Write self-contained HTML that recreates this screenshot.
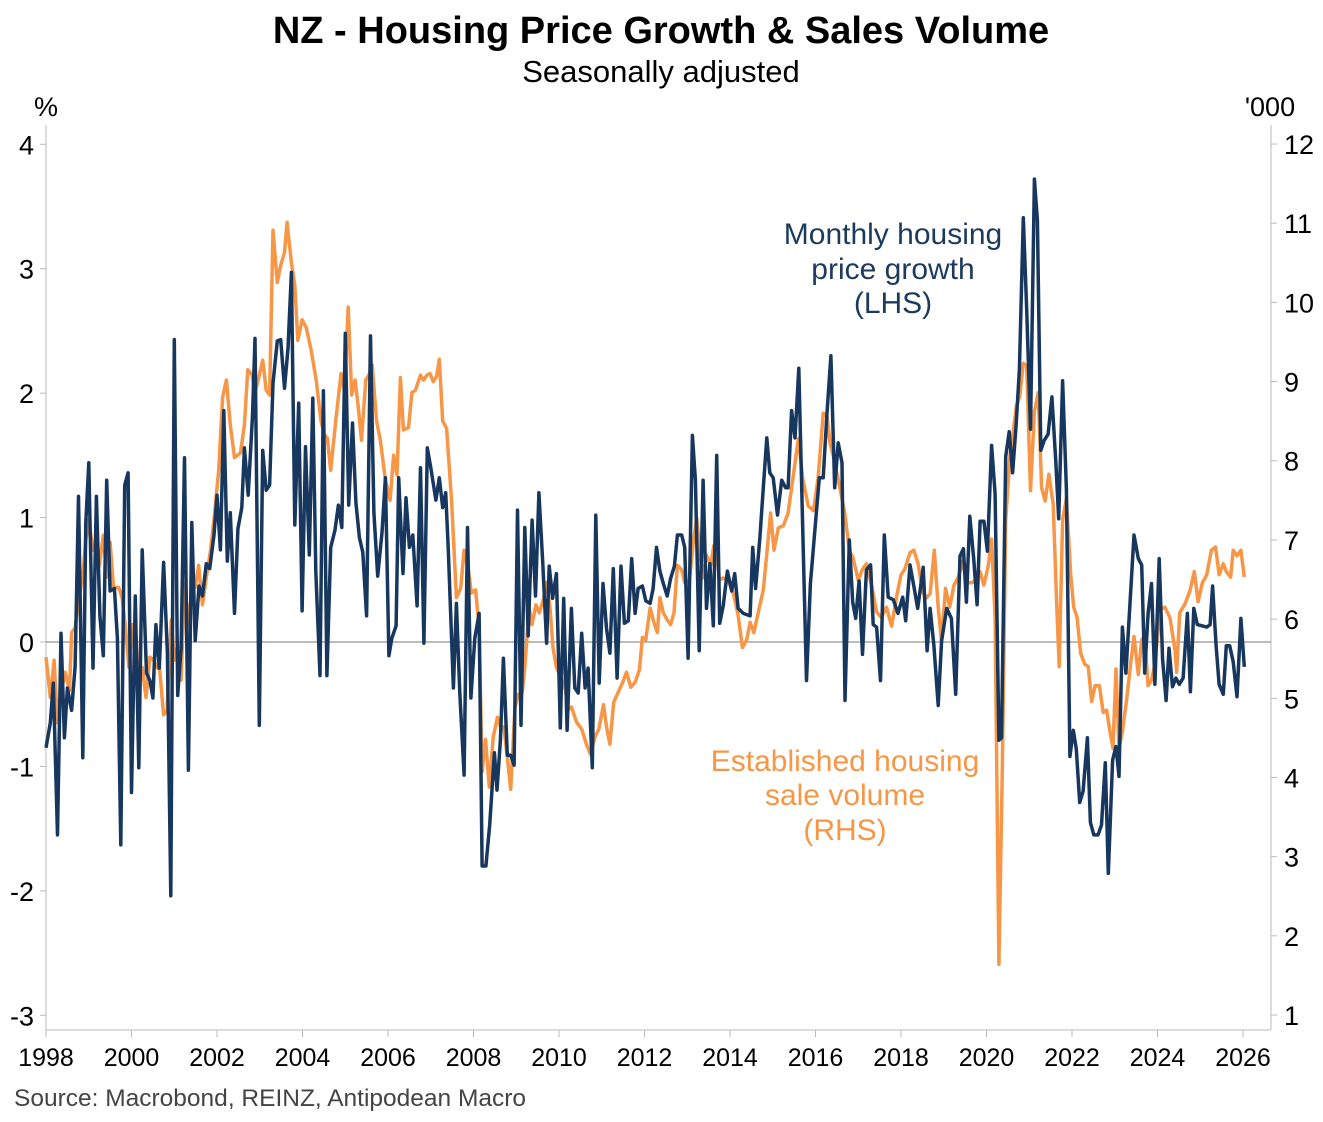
<!DOCTYPE html>
<html><head><meta charset="utf-8">
<style>
html,body{margin:0;padding:0;background:#fff;}
svg{display:block;font-family:"Liberation Sans",Arial,sans-serif;}
</style></head>
<body>
<svg id="chart" width="1323" height="1122" viewBox="0 0 1323 1122" xmlns="http://www.w3.org/2000/svg">
<text x="661" y="43" text-anchor="middle" font-size="38" font-weight="bold" fill="#000">NZ - Housing Price Growth &amp; Sales Volume</text>
<text x="661" y="82" text-anchor="middle" font-size="31" fill="#000">Seasonally adjusted</text>
<text x="46" y="116" text-anchor="middle" font-size="27" fill="#000">%</text>
<text x="1270" y="116" text-anchor="middle" font-size="27" fill="#000">'000</text>
<g id="axes"></g>
<g id="series"></g>
<text text-anchor="middle" font-size="30" fill="#1b3a5e"><tspan x="893" y="244">Monthly housing</tspan><tspan x="893" y="279">price growth</tspan><tspan x="893" y="313">(LHS)</tspan></text>
<text text-anchor="middle" font-size="30" fill="#f79646"><tspan x="845" y="771">Established housing</tspan><tspan x="845" y="805">sale volume</tspan><tspan x="845" y="840">(RHS)</tspan></text>
<text x="14" y="1106" font-size="24.5" fill="#444">Source: Macrobond, REINZ, Antipodean Macro</text>
</svg>
<script>
const leftTicks=[4,3,2,1,0,-1,-2,-3];
const rightTicks=[12,11,10,9,8,7,6,5,4,3,2,1];
const xTickYears=[1998,2000,2002,2004,2006,2008,2010,2012,2014,2016,2018,2020,2022,2024,2026];
const priceDates=[1998.0,1998.1,1998.17,1998.27,1998.35,1998.43,1998.5,1998.6,1998.68,1998.76,1998.86,1998.93,1999.0,1999.1,1999.18,1999.26,1999.34,1999.42,1999.5,1999.6,1999.67,1999.75,1999.84,1999.92,2000.0,2000.09,2000.17,2000.25,2000.35,2000.43,2000.5,2000.57,2000.65,2000.75,2000.84,2000.92,2001.0,2001.08,2001.16,2001.24,2001.33,2001.41,2001.49,2001.58,2001.66,2001.75,2001.83,2001.93,2002.0,2002.08,2002.16,2002.24,2002.31,2002.41,2002.49,2002.58,2002.64,2002.73,2002.83,2002.89,2002.99,2003.07,2003.15,2003.23,2003.31,2003.41,2003.49,2003.58,2003.66,2003.74,2003.82,2003.91,2003.99,2004.07,2004.16,2004.24,2004.31,2004.41,2004.49,2004.57,2004.66,2004.76,2004.84,2004.92,2005.0,2005.08,2005.17,2005.25,2005.33,2005.41,2005.5,2005.59,2005.67,2005.76,2005.86,2005.94,2006.02,2006.09,2006.19,2006.25,2006.35,2006.42,2006.5,2006.58,2006.68,2006.76,2006.84,2006.92,2007.0,2007.12,2007.2,2007.28,2007.35,2007.41,2007.53,2007.6,2007.68,2007.78,2007.86,2007.94,2008.03,2008.13,2008.2,2008.29,2008.38,2008.49,2008.55,2008.63,2008.7,2008.79,2008.87,2008.95,2009.03,2009.11,2009.2,2009.28,2009.37,2009.45,2009.53,2009.62,2009.71,2009.77,2009.85,2009.94,2010.03,2010.11,2010.19,2010.29,2010.37,2010.45,2010.53,2010.61,2010.68,2010.78,2010.86,2010.94,2011.03,2011.11,2011.19,2011.27,2011.36,2011.45,2011.53,2011.62,2011.7,2011.78,2011.85,2011.95,2012.03,2012.13,2012.2,2012.28,2012.36,2012.44,2012.53,2012.61,2012.7,2012.77,2012.87,2012.94,2013.02,2013.12,2013.19,2013.28,2013.37,2013.45,2013.53,2013.61,2013.69,2013.76,2013.84,2013.94,2014.04,2014.11,2014.19,2014.31,2014.47,2014.53,2014.6,2014.7,2014.78,2014.86,2014.93,2015.01,2015.11,2015.21,2015.3,2015.36,2015.44,2015.52,2015.61,2015.69,2015.79,2015.88,2015.99,2016.09,2016.18,2016.27,2016.36,2016.45,2016.53,2016.62,2016.69,2016.79,2016.87,2016.94,2017.02,2017.1,2017.19,2017.29,2017.35,2017.43,2017.52,2017.61,2017.7,2017.82,2017.93,2018.04,2018.11,2018.21,2018.3,2018.39,2018.52,2018.61,2018.68,2018.77,2018.87,2018.95,2019.07,2019.18,2019.28,2019.38,2019.46,2019.53,2019.61,2019.7,2019.78,2019.85,2019.94,2020.02,2020.12,2020.2,2020.29,2020.35,2020.45,2020.53,2020.61,2020.69,2020.77,2020.86,2020.94,2021.03,2021.12,2021.19,2021.27,2021.35,2021.44,2021.53,2021.62,2021.69,2021.78,2021.87,2021.95,2022.03,2022.1,2022.18,2022.26,2022.36,2022.43,2022.51,2022.61,2022.69,2022.78,2022.85,2022.95,2023.03,2023.1,2023.18,2023.26,2023.35,2023.45,2023.55,2023.63,2023.7,2023.78,2023.86,2023.94,2024.04,2024.12,2024.2,2024.27,2024.35,2024.43,2024.51,2024.6,2024.7,2024.77,2024.85,2024.93,2025.15,2025.23,2025.29,2025.37,2025.44,2025.54,2025.61,2025.69,2025.77,2025.86,2025.95,2026.03];
const priceGrowth=[-0.85,-0.65,-0.33,-1.55,0.07,-0.77,-0.37,-0.55,-0.2,1.17,-0.93,0.96,1.44,-0.21,1.17,0.21,-0.11,1.3,0.41,0.43,0.03,-1.63,1.26,1.36,-1.21,0.37,-1.01,0.74,-0.25,-0.31,-0.45,0.14,-0.21,0.64,-0.09,-2.04,2.43,-0.43,-0.05,1.48,-1.03,0.96,0.01,0.45,0.37,0.63,0.59,0.86,1.18,0.74,1.86,0.65,1.04,0.23,0.91,1.08,1.56,1.18,1.82,2.44,-0.67,1.54,1.22,1.26,2.08,2.42,2.43,2.04,2.36,2.97,0.94,1.92,0.25,1.57,0.7,1.96,0.57,-0.27,2.02,-0.27,0.76,0.9,1.1,0.92,2.48,1.1,1.76,1.12,0.84,0.72,0.21,2.46,1.04,0.53,0.88,1.32,-0.11,0.03,0.13,1.32,0.55,1.16,0.76,0.86,0.29,1.4,-0.01,1.56,1.4,1.14,1.32,1.08,1.2,0.74,-0.37,0.31,-0.41,-1.07,0.92,-0.45,0.03,0.23,-1.8,-1.8,-1.47,-0.89,-1.19,-0.79,-0.13,-0.91,-0.91,-0.99,1.06,-0.67,0.92,0.05,0.98,0.37,1.2,0.63,-0.01,0.61,0.35,0.55,-0.69,0.35,-0.71,0.27,-0.37,-0.41,0.07,-0.37,-0.21,-1.01,1.02,-0.33,0.47,0.11,-0.09,0.59,-0.29,0.61,0.15,0.17,0.67,0.23,0.43,0.45,0.33,0.31,0.43,0.76,0.57,0.47,0.37,0.51,0.61,0.86,0.86,0.76,-0.13,1.66,1.3,-0.07,1.3,0.27,0.63,0.13,1.5,0.15,0.29,0.57,0.41,0.55,0.27,0.23,0.21,0.76,0.43,0.84,1.24,1.64,1.36,1.32,1.02,1.3,1.24,1.24,1.86,1.64,2.2,1.08,-0.31,0.47,0.92,1.32,1.32,1.84,2.3,1.24,1.6,1.44,-0.47,0.82,0.32,0.19,0.49,-0.1,0.58,0.62,0.14,0.12,-0.31,0.86,0.36,0.34,0.23,0.36,0.17,0.62,0.45,0.27,0.6,-0.07,0.27,-0.03,-0.51,0.01,0.27,0.19,-0.42,0.69,0.75,0.32,1.01,0.67,0.3,0.97,0.97,0.73,1.58,1.19,-0.79,-0.77,1.49,1.69,1.36,1.73,2.19,3.41,2.67,1.71,3.72,3.39,1.54,1.62,1.67,1.97,1.45,0.99,2.1,1.23,-0.92,-0.71,-0.86,-1.29,-1.2,-0.77,-1.45,-1.55,-1.55,-1.47,-0.97,-1.86,-0.95,-0.84,-1.08,0.12,-0.25,0.27,0.86,0.67,0.62,-0.25,0.23,0.47,-0.34,0.67,-0.14,-0.47,-0.05,-0.36,-0.29,-0.34,-0.29,0.23,-0.4,0.27,0.14,0.12,0.14,0.45,-0.03,-0.34,-0.42,-0.03,-0.03,-0.16,-0.44,0.19,-0.2];
const salesDates=[1998.0,1998.1,1998.19,1998.27,1998.35,1998.45,1998.55,1998.6,1998.68,1998.78,1998.86,1998.93,1999.0,1999.1,1999.18,1999.25,1999.34,1999.42,1999.5,1999.58,1999.7,1999.78,1999.86,1999.94,2000.02,2000.09,2000.17,2000.25,2000.34,2000.43,2000.52,2000.6,2000.66,2000.75,2000.83,2000.93,2001.0,2001.08,2001.16,2001.24,2001.33,2001.41,2001.49,2001.57,2001.66,2001.75,2001.85,2001.94,2002.04,2002.13,2002.22,2002.31,2002.41,2002.55,2002.64,2002.72,2002.82,2002.89,2002.99,2003.07,2003.15,2003.23,2003.31,2003.41,2003.49,2003.58,2003.64,2003.74,2003.82,2003.89,2003.99,2004.09,2004.2,2004.32,2004.43,2004.51,2004.58,2004.66,2004.78,2004.9,2004.98,2005.07,2005.15,2005.23,2005.3,2005.38,2005.48,2005.55,2005.63,2005.73,2005.82,2005.94,2006.05,2006.13,2006.21,2006.29,2006.36,2006.48,2006.56,2006.64,2006.76,2006.83,2006.91,2006.98,2007.06,2007.14,2007.2,2007.28,2007.37,2007.49,2007.6,2007.7,2007.78,2007.88,2007.95,2008.05,2008.13,2008.2,2008.28,2008.37,2008.46,2008.56,2008.63,2008.71,2008.79,2008.87,2008.97,2009.05,2009.14,2009.2,2009.3,2009.37,2009.46,2009.54,2009.63,2009.71,2009.79,2009.86,2009.94,2010.04,2010.14,2010.22,2010.29,2010.41,2010.53,2010.64,2010.74,2010.84,2010.93,2011.04,2011.11,2011.19,2011.28,2011.38,2011.49,2011.58,2011.68,2011.78,2011.88,2011.95,2012.03,2012.13,2012.22,2012.3,2012.36,2012.44,2012.53,2012.61,2012.69,2012.77,2012.87,2012.94,2013.05,2013.14,2013.22,2013.3,2013.37,2013.45,2013.55,2013.62,2013.69,2013.75,2013.84,2013.96,2014.09,2014.19,2014.29,2014.39,2014.47,2014.56,2014.66,2014.78,2014.88,2014.95,2015.03,2015.13,2015.25,2015.36,2015.48,2015.6,2015.7,2015.83,2015.95,2016.06,2016.18,2016.27,2016.34,2016.43,2016.57,2016.69,2016.79,2016.88,2017.0,2017.1,2017.19,2017.31,2017.43,2017.54,2017.66,2017.78,2017.9,2018.0,2018.09,2018.21,2018.3,2018.4,2018.5,2018.58,2018.68,2018.78,2018.87,2018.95,2019.04,2019.14,2019.24,2019.34,2019.44,2019.53,2019.65,2019.77,2019.85,2019.94,2020.04,2020.12,2020.2,2020.29,2020.37,2020.45,2020.55,2020.62,2020.7,2020.78,2020.86,2020.94,2021.03,2021.12,2021.21,2021.29,2021.37,2021.46,2021.56,2021.64,2021.7,2021.78,2021.87,2021.97,2022.04,2022.12,2022.2,2022.3,2022.38,2022.46,2022.54,2022.64,2022.73,2022.81,2022.89,2022.96,2023.03,2023.1,2023.18,2023.28,2023.37,2023.45,2023.55,2023.63,2023.7,2023.78,2023.86,2023.94,2024.06,2024.17,2024.29,2024.41,2024.45,2024.52,2024.64,2024.76,2024.86,2024.95,2025.05,2025.15,2025.26,2025.36,2025.44,2025.54,2025.61,2025.71,2025.77,2025.86,2025.95,2026.03];
const salesVolume=[5.52,5.01,5.48,4.69,5.07,5.33,5.1,5.83,5.89,6.3,6.53,7.0,7.25,6.87,6.87,6.68,7.06,6.53,6.97,6.4,6.4,6.27,5.89,5.39,5.93,5.93,5.14,5.39,5.01,5.52,5.48,5.39,5.36,4.79,4.85,5.99,5.48,5.67,5.23,6.46,5.93,6.37,6.4,6.68,6.18,6.53,6.87,7.31,7.88,8.8,9.02,8.45,8.04,8.1,8.45,9.15,9.08,8.86,9.08,9.27,8.89,8.83,10.91,10.25,10.47,10.63,11.01,10.5,10.22,9.52,9.78,9.68,9.4,9.02,8.51,8.33,8.29,7.88,8.51,9.1,8.89,9.94,8.83,9.02,8.7,8.26,9.02,9.08,9.21,8.51,8.26,7.76,7.5,8.07,7.82,9.05,8.39,8.42,8.86,8.89,9.08,9.02,9.08,9.1,9.0,9.07,9.28,8.5,8.41,7.47,6.27,6.39,6.87,6.62,6.33,6.37,5.89,4.07,4.48,3.88,4.51,4.76,4.64,4.64,4.26,3.85,4.89,5.05,5.07,5.39,6.14,5.93,6.18,6.08,6.24,6.46,6.14,5.64,5.39,5.27,5.14,4.86,4.89,4.7,4.61,4.42,4.29,4.51,4.61,4.92,4.64,4.42,4.95,5.07,5.2,5.33,5.14,5.2,5.36,5.77,5.74,6.14,5.96,5.83,6.27,6.08,5.99,5.93,6.08,6.68,6.62,6.46,6.49,6.96,7.28,6.81,6.52,6.81,6.68,6.93,6.9,6.49,6.52,6.49,6.3,6.05,5.64,5.74,5.96,5.83,6.08,6.37,6.93,7.34,6.87,7.15,7.18,7.34,7.81,8.28,7.78,7.43,7.37,7.78,8.6,8.56,8.22,8.03,7.66,7.32,6.87,6.77,6.49,6.63,6.7,6.43,6.09,6.02,6.15,5.91,6.29,6.56,6.63,6.84,6.87,6.7,6.36,6.26,6.32,6.87,6.15,5.71,6.39,6.15,6.43,6.53,6.73,6.46,6.46,6.49,6.6,6.43,6.67,7.01,6.02,1.64,4.1,7.25,8.07,8.34,8.69,8.82,9.23,9.2,7.62,8.62,8.86,7.66,7.49,7.83,7.45,6.22,5.4,7.25,7.52,6.56,6.15,6.02,5.57,5.43,5.4,4.96,5.16,5.16,4.82,4.85,4.58,4.37,5.37,4.37,4.58,4.99,5.43,5.78,5.3,5.74,5.78,5.16,5.23,5.43,6.12,6.15,6.02,5.61,5.33,6.08,6.19,6.36,6.6,6.22,6.46,6.56,6.87,6.91,6.56,6.7,6.6,6.53,6.87,6.8,6.87,6.53];

const NS='http://www.w3.org/2000/svg';
const X0=46,X1=1271,YT=125,YB=1030;
function xScale(yr){return 46+(yr-1998)*(1197/28);}
function yLeft(v){return 642-v*124.43;}
function yRight(v){return 1015-(v-1)*79.18;}
function mk(tag,attrs,parent){const e=document.createElementNS(NS,tag);for(const k in attrs)e.setAttribute(k,attrs[k]);parent.appendChild(e);return e;}
const axes=document.getElementById('axes');
const series=document.getElementById('series');

let el=mk('line',{x1:X0,y1:YT,x2:X0,y2:YB,stroke:'#d0d0d0','stroke-width':1.5},axes);


el=mk('line',{x1:X1,y1:YT,x2:X1,y2:YB,stroke:'#d0d0d0','stroke-width':1.5},axes);


el=mk('line',{x1:X0,y1:YB,x2:X1,y2:YB,stroke:'#d0d0d0','stroke-width':1.5},axes);


el=mk('line',{x1:X0,y1:yLeft(0),x2:X1,y2:yLeft(0),stroke:'#777','stroke-width':1},axes);



leftTicks.forEach(v=>{
  const y=yLeft(v);
  const t=mk('line',{x1:X0-6,y1:y,x2:X0,y2:y,stroke:'#bbb','stroke-width':1},axes);
  
  
  const l=mk('text',{x:34,y:y+10,'text-anchor':'end','font-size':27,fill:'#000'},axes);
  l.textContent=v;
  
  
});
rightTicks.forEach(v=>{
  const y=yRight(v);
  const t=mk('line',{x1:X1,y1:y,x2:X1+6,y2:y,stroke:'#bbb','stroke-width':1},axes);
  
  
  const l=mk('text',{x:1284,y:y+10,'text-anchor':'start','font-size':27,fill:'#000'},axes);
  l.textContent=v;
  
  
});
xTickYears.forEach(yr=>{
  const x=xScale(yr);
  const t=mk('line',{x1:x,y1:YB,x2:x,y2:YB+7,stroke:'#bbb','stroke-width':1},axes);
  
  
  const l=mk('text',{x:x,y:1066,'text-anchor':'middle','font-size':25,fill:'#000'},axes);
  l.textContent=yr;
  
  
});

const salesPts=salesDates.map((d,i)=>xScale(d).toFixed(1)+','+yRight(salesVolume[i]).toFixed(1)).join(' ');
const sl=mk('polyline',{points:salesPts,fill:'none',stroke:'#f79646','stroke-width':3.5,'stroke-linejoin':'round'},series);


const pricePts=priceDates.map((d,i)=>xScale(d).toFixed(1)+','+yLeft(priceGrowth[i]).toFixed(1)).join(' ');
const pl=mk('polyline',{points:pricePts,fill:'none',stroke:'#17375e','stroke-width':3.5,'stroke-linejoin':'round'},series);


</script>
</body></html>
